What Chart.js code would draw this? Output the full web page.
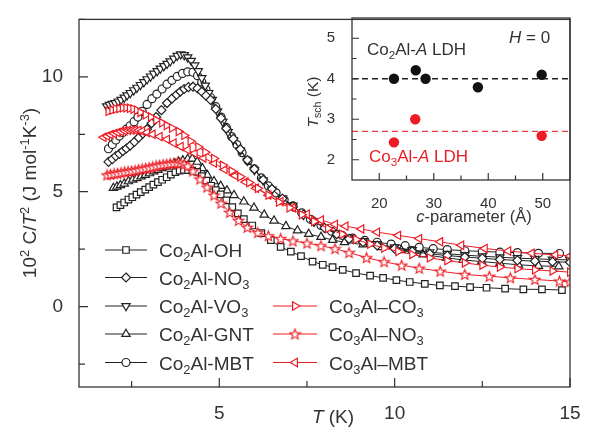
<!DOCTYPE html>
<html>
<head>
<meta charset="utf-8">
<script src="https://cdn.jsdelivr.net/npm/chart.js"></script>
<style>
html, body { margin: 0; padding: 0; background: #fff; }
#wrap { position: relative; width: 592px; height: 432px; }
#main { position: absolute; left: 0; top: 0; }
#inset { position: absolute; left: 290px; top: 0; }
</style>
</head>
<body>
<div id="wrap">
  <canvas id="main" width="592" height="432"></canvas>
  <canvas id="inset" width="302" height="232"></canvas>
</div>
<script>
// ---- data: [T (K), 10^2 C/T^2] ----
const co2OH = [[2.07,4.32],[2.18,4.42],[2.29,4.53],[2.41,4.66],[2.52,4.76],[2.64,4.87],[2.76,4.98],[2.89,5.09],[3.0,5.2],[3.12,5.31],
  [3.25,5.42],[3.37,5.52],[3.5,5.63],[3.62,5.74],[3.75,5.85],[3.87,5.92],[3.99,5.95],[4.11,5.94],[4.23,5.92],[4.37,5.86],
  [4.5,5.68],[4.63,5.48],[4.77,5.26],[4.9,5.07],[5.04,4.88],[5.2,4.62],[5.37,4.33],[5.53,4.06],[5.7,3.81],[5.94,3.53],
  [6.2,3.2],[6.47,2.89],[6.75,2.6],[7.04,2.39],[7.33,2.2],[7.66,1.96],[7.95,1.82],[8.23,1.72],[8.52,1.6],[8.9,1.46],
  [9.3,1.35],[9.67,1.25],[10.05,1.15],[10.43,1.07],[10.86,0.99],[11.29,0.92],[11.72,0.89],[12.15,0.85],[12.62,0.82],[13.15,0.78],
  [13.67,0.75],[14.2,0.75],[14.77,0.72]];
const co2NO3 = [[1.84,6.3],[1.95,6.42],[2.05,6.55],[2.15,6.65],[2.25,6.77],[2.35,6.88],[2.46,7.01],[2.58,7.17],[2.7,7.35],[2.82,7.53],
  [2.94,7.72],[3.07,7.98],[3.2,8.25],[3.35,8.55],[3.51,8.86],[3.65,9.05],[3.78,9.22],[3.89,9.36],[4.0,9.47],[4.12,9.55],
  [4.25,9.57],[4.38,9.5],[4.5,9.35],[4.62,9.18],[4.75,9.0],[4.9,8.6],[5.05,8.2],[5.2,7.75],[5.4,7.3],[5.6,6.85],
  [5.8,6.38],[6.0,5.98],[6.25,5.52],[6.5,5.12],[6.8,4.7],[7.1,4.35],[7.4,4.0],[7.7,3.7],[8.0,3.42],[8.35,3.15],
  [8.7,2.95],[9.1,2.8],[9.5,2.66],[10.0,2.52],[10.5,2.4],[11.0,2.3],[11.5,2.22],[12.0,2.16],[12.5,2.1],[13.0,2.05],
  [13.5,2.01],[14.0,1.98],[14.5,1.95],[15.0,1.93]];
const co2VO3 = [[1.79,8.72],[1.87,8.78],[1.95,8.83],[2.03,8.86],[2.12,8.93],[2.2,9.0],[2.29,9.1],[2.37,9.2],[2.46,9.3],[2.56,9.42],
  [2.65,9.53],[2.75,9.65],[2.85,9.77],[2.94,9.9],[3.04,10.02],[3.13,10.14],[3.23,10.25],[3.32,10.36],[3.42,10.47],[3.51,10.57],
  [3.6,10.68],[3.7,10.8],[3.8,10.92],[3.9,10.98],[4.0,10.95],[4.1,10.85],[4.2,10.7],[4.3,10.5],[4.4,10.25],[4.5,9.95],
  [4.6,9.62],[4.7,9.3],[4.8,9.0],[4.95,8.5],[5.1,8.05],[5.25,7.6],[5.4,7.25],[5.6,6.8],[5.8,6.35],[6.0,5.95],
  [6.25,5.5],[6.5,5.1],[6.8,4.72],[7.1,4.4],[7.4,4.0],[7.7,3.7],[8.0,3.45],[8.35,3.18],[8.7,3.0],[9.1,2.85],
  [9.5,2.72],[10.0,2.58],[10.5,2.46],[11.0,2.37],[11.5,2.3],[12.0,2.24],[12.5,2.19],[13.0,2.15],[13.5,2.11],[14.0,2.08],
  [14.5,2.05],[15.0,2.03]];
const co2GNT = [[1.98,5.16],[2.08,5.22],[2.18,5.28],[2.29,5.35],[2.41,5.45],[2.53,5.52],[2.65,5.59],[2.77,5.66],[2.89,5.73],[3.01,5.8],
  [3.13,5.88],[3.25,5.95],[3.37,6.02],[3.49,6.09],[3.61,6.16],[3.73,6.23],[3.84,6.3],[3.96,6.36],[4.1,6.42],[4.23,6.44],
  [4.37,6.3],[4.52,6.02],[4.66,5.72],[4.85,5.45],[5.04,5.25],[5.22,5.05],[5.42,4.85],[5.7,4.57],[5.99,4.3],[6.28,4.0],
  [6.56,3.74],[6.9,3.5],[7.23,3.31],[7.55,3.16],[7.9,3.03],[8.23,2.9],[8.57,2.8],[9.1,2.7],[9.62,2.58],[10.19,2.45],
  [10.81,2.27],[11.48,2.12],[11.95,2.03],[12.48,1.96],[13.0,1.89],[13.53,1.82],[14.1,1.77],[14.68,1.75]];
const co2MBT = [[1.84,6.87],[1.95,7.05],[2.05,7.25],[2.15,7.42],[2.25,7.58],[2.35,7.72],[2.46,7.87],[2.57,8.05],[2.68,8.25],[2.8,8.5],
  [2.94,8.8],[3.08,9.05],[3.22,9.25],[3.37,9.47],[3.51,9.68],[3.65,9.85],[3.8,10.02],[3.95,10.15],[4.1,10.22],[4.25,10.2],
  [4.38,10.05],[4.5,9.78],[4.62,9.45],[4.75,9.1],[4.9,8.7],[5.05,8.25],[5.2,7.8],[5.35,7.4],[5.5,7.05],[5.65,6.7],
  [5.82,6.35],[6.0,6.0],[6.2,5.6],[6.4,5.25],[6.62,4.95],[6.85,4.65],[7.1,4.38],[7.35,4.08],[7.6,3.8],[7.9,3.53],
  [8.2,3.28],[8.5,3.1],[8.8,2.98],[9.15,2.88],[9.5,2.8],[9.9,2.72],[10.3,2.65],[10.7,2.58],[11.1,2.52],[11.5,2.48],
  [12.0,2.43],[12.5,2.4],[13.0,2.37],[13.5,2.35],[14.1,2.32],[14.7,2.31]];
const co3CO3 = [[1.84,8.5],[1.95,8.55],[2.05,8.6],[2.15,8.62],[2.25,8.65],[2.35,8.65],[2.45,8.63],[2.55,8.6],[2.65,8.55],[2.75,8.45],
  [2.9,8.35],[3.05,8.25],[3.2,8.12],[3.37,8.0],[3.5,7.88],[3.65,7.77],[3.84,7.62],[4.0,7.45],[4.18,7.2],[4.4,6.95],
  [4.6,6.72],[4.85,6.45],[5.1,6.15],[5.35,5.9],[5.6,5.65],[5.85,5.4],[6.1,5.15],[6.4,4.85],[6.7,4.55],[7.0,4.3],
  [7.35,4.0],[7.7,3.7],[8.1,3.4],[8.5,3.15],[8.9,2.92],[9.3,2.72],[9.7,2.55],[10.1,2.4],[10.5,2.27],[11.0,2.12],
  [11.5,2.0],[12.0,1.9],[12.5,1.8],[13.0,1.72],[13.5,1.65],[14.0,1.6],[14.5,1.55],[15.0,1.5]];
const co3NO3 = [[1.8,5.73],[1.9,5.75],[2.0,5.78],[2.1,5.8],[2.2,5.83],[2.3,5.86],[2.4,5.88],[2.5,5.9],[2.6,5.93],[2.7,5.96],
  [2.8,5.99],[2.9,6.02],[3.0,6.05],[3.1,6.08],[3.2,6.12],[3.3,6.15],[3.4,6.18],[3.5,6.2],[3.6,6.22],[3.7,6.24],
  [3.8,6.25],[3.9,6.24],[4.0,6.2],[4.1,6.12],[4.25,5.9],[4.45,5.55],[4.65,5.2],[4.85,4.85],[5.05,4.5],[5.3,4.1],
  [5.55,3.75],[5.8,3.45],[6.1,3.22],[6.4,3.08],[6.75,2.96],[7.1,2.86],[7.5,2.76],[7.9,2.65],[8.3,2.52],[8.7,2.35],
  [9.2,2.13],[9.7,1.95],[10.2,1.8],[10.7,1.67],[11.3,1.54],[12.0,1.4],[12.7,1.32],[13.3,1.25],[14.0,1.18],[14.7,1.11],[15.0,1.08]];
const co3MBT = [[1.7,7.37],[1.8,7.42],[1.9,7.48],[2.0,7.53],[2.1,7.58],[2.2,7.62],[2.3,7.65],[2.4,7.67],[2.5,7.68],[2.6,7.68],
  [2.7,7.67],[2.8,7.64],[2.94,7.58],[3.1,7.5],[3.3,7.4],[3.51,7.28],[3.7,7.12],[3.9,6.97],[4.1,6.82],[4.3,6.67],
  [4.55,6.47],[4.85,6.25],[5.15,5.97],[5.45,5.7],[5.75,5.42],[6.05,5.15],[6.4,4.85],[6.75,4.57],[7.1,4.3],[7.5,4.02],
  [7.9,3.77],[8.3,3.58],[8.6,3.5],[9.05,3.38],[9.5,3.24],[10.1,3.1],[10.7,2.96],[11.3,2.82],[11.9,2.67],[12.57,2.53],
  [13.24,2.42],[13.91,2.32],[14.58,2.25],[15.0,2.2]];

const seriesNames = ['Co₂Al-OH', 'Co₂Al-NO₃', 'Co₂Al-VO₃', 'Co₂Al-GNT', 'Co₂Al-MBT', 'Co₃Al–CO₃', 'Co₃Al–NO₃', 'Co₃Al–MBT'];
const xTicksMain = [2.5, 5, 7.5, 10, 12.5, 15];
const yTicksMain = [-2.5, 0, 2.5, 5, 7.5, 10, 12.5];

// inset: T_sch vs c-parameter
const co2C = [22.7, 26.7, 28.5, 38.1, 49.8];
const co2Tsch = [4.0, 4.21, 4.0, 3.79, 4.1];
const co3C = [22.7, 26.6, 49.8];
const co3Tsch = [2.43, 3.0, 2.59];
const co2Level = 4.0;
const co3Level = 2.7;
const xTicksInset = [20, 25, 30, 35, 40, 45, 50];
const yTicksInset = [2, 2.5, 3, 3.5, 4, 4.5, 5];

const FONT = "'Liberation Sans', Arial, Helvetica, sans-serif";
const TXT = '#333';
const BLACK = '#222';
const RED = '#ec1c24';

// rich text: '*' toggles italic, '_{..}' subscript, unicode sub/superscript digits
const SUBS = '₀₁₂₃₄₅₆₇₈₉', SUPS = '⁰¹²³⁴⁵⁶⁷⁸⁹';
function parseRich(str) {
  let segs = [], ital = false, i = 0;
  const push = (t, k) => {
    let last = segs[segs.length - 1];
    if (last && last.k === k && last.i === ital) last.t += t;
    else segs.push({ t: t, k: k, i: ital });
  };
  while (i < str.length) {
    let ch = str[i];
    if (ch === '*') { ital = !ital; i++; continue; }
    if (ch === '_' && str[i + 1] === '{') {
      let j = str.indexOf('}', i);
      push(str.slice(i + 2, j), 'sub'); i = j + 1; continue;
    }
    if (SUBS.includes(ch)) push(String(SUBS.indexOf(ch)), 'sub');
    else if (SUPS.includes(ch)) push(String(SUPS.indexOf(ch)), 'sup');
    else if (ch === '⁻') push('-', 'sup');
    else push(ch, 'n');
    i++;
  }
  return segs;
}

function drawRich(ctx, str, x, y, size, color, align) {
  const segs = parseRich(str);
  const fontOf = s => (s.i ? 'italic ' : '') + (s.k === 'n' ? size : size * 0.68).toFixed(1) + 'px ' + FONT;
  let w = 0;
  segs.forEach(s => { ctx.font = fontOf(s); s.w = ctx.measureText(s.t).width; w += s.w; });
  let cx = align === 'center' ? x - w / 2 : align === 'right' ? x - w : x;
  ctx.fillStyle = color;
  ctx.textBaseline = 'alphabetic';
  ctx.textAlign = 'left';
  segs.forEach(s => {
    ctx.font = fontOf(s);
    let dy = s.k === 'sub' ? size * 0.22 : s.k === 'sup' ? -size * 0.38 : 0;
    ctx.fillText(s.t, cx, y + dy);
    cx += s.w;
  });
  return w;
}

function starImg(color) {
  const c = document.createElement('canvas');
  c.width = 13; c.height = 13;
  const g = c.getContext('2d');
  g.beginPath();
  for (let k = 0; k < 10; k++) {
    let rr = k % 2 ? 2.3 : 5.4;
    let t = k * Math.PI / 5;
    let px = 6.5 + Math.sin(t) * rr, py = 7 - Math.cos(t) * rr;
    if (k) g.lineTo(px, py); else g.moveTo(px, py);
  }
  g.closePath();
  g.fillStyle = '#fff'; g.fill();
  g.strokeStyle = color; g.lineWidth = 1.1; g.stroke();
  return c;
}
const STAR = starImg(RED);

// same shapes as the chart points, for the legend
function drawMarker(ctx, ds, x, y) {
  const style = ds.pointStyle, r = ds.pointRadius, rot = (ds.pointRotation || 0) * Math.PI / 180;
  if (style instanceof HTMLCanvasElement) { ctx.drawImage(style, x - style.width / 2, y - style.height / 2); return; }
  ctx.beginPath();
  if (style === 'circle') ctx.arc(x, y, r, 0, 2 * Math.PI);
  else if (style === 'rect') { let s = r * Math.SQRT1_2; ctx.rect(x - s, y - s, 2 * s, 2 * s); }
  else if (style === 'rectRot') { ctx.moveTo(x, y - r); ctx.lineTo(x + r, y); ctx.lineTo(x, y + r); ctx.lineTo(x - r, y); ctx.closePath(); }
  else if (style === 'triangle') {
    for (let k = 0; k < 3; k++) {
      let t = rot + k * 2 * Math.PI / 3;
      let px = x + Math.sin(t) * r, py = y - Math.cos(t) * r;
      if (k) ctx.lineTo(px, py); else ctx.moveTo(px, py);
    }
    ctx.closePath();
  }
  ctx.fillStyle = '#fff'; ctx.fill();
  ctx.strokeStyle = ds.pointBorderColor; ctx.lineWidth = ds.pointBorderWidth; ctx.stroke();
}

function inwardTicks(chart, isMajor, lenMaj, lenMin) {
  const ctx = chart.ctx, a = chart.chartArea, sx = chart.scales.x, sy = chart.scales.y;
  ctx.save();
  ctx.strokeStyle = TXT; ctx.lineWidth = 1.2;
  ctx.beginPath();
  sx.ticks.forEach(t => {
    const p = sx.getPixelForValue(t.value), l = isMajor.x(t.value) ? lenMaj : lenMin;
    ctx.moveTo(p, a.bottom); ctx.lineTo(p, a.bottom - l);
  });
  sy.ticks.forEach(t => {
    const p = sy.getPixelForValue(t.value), l = isMajor.y(t.value) ? lenMaj : lenMin;
    ctx.moveTo(a.left, p); ctx.lineTo(a.left + l, p);
  });
  ctx.stroke();
  ctx.lineWidth = 1.3;
  ctx.strokeRect(a.left, a.top, a.right - a.left, a.bottom - a.top);
  ctx.restore();
}

function pts(arr) { return arr.map(p => ({ x: p[0], y: p[1] })); }

function series(i, arr, color, style, rot, r, order) {
  return {
    label: seriesNames[i], data: pts(arr),
    borderColor: color, borderWidth: 1,
    pointStyle: style, pointRotation: rot, pointRadius: r,
    pointBorderColor: color, pointBorderWidth: 1.2, pointBackgroundColor: '#fff',
    pointHoverRadius: r, tension: 0, order: order
  };
}

const datasets = [
  series(0, co2OH, BLACK, 'rect', 0, 4.6, 1),
  series(1, co2NO3, BLACK, 'rectRot', 0, 4.5, 1),
  series(2, co2VO3, BLACK, 'triangle', 180, 4.8, 1),
  series(3, co2GNT, BLACK, 'triangle', 0, 4.8, 1),
  series(4, co2MBT, BLACK, 'circle', 0, 4, 1),
  series(5, co3CO3, RED, 'triangle', 90, 4.8, 0),
  series(6, co3NO3, RED, STAR, 0, 4, 0),
  series(7, co3MBT, RED, 'triangle', -90, 4.8, 0)
];

// legend placement (two columns, like the figure)
const legendRows = [
  { ds: 0, x0: 105, x1: 147, y: 250 },
  { ds: 1, x0: 105, x1: 147, y: 277.5 },
  { ds: 2, x0: 105, x1: 147, y: 306 },
  { ds: 3, x0: 105, x1: 147, y: 334 },
  { ds: 4, x0: 105, x1: 147, y: 362.5 },
  { ds: 5, x0: 273, x1: 317, y: 306 },
  { ds: 6, x0: 273, x1: 317, y: 334 },
  { ds: 7, x0: 273, x1: 317, y: 362.5 }
];

const mainDecor = {
  id: 'mainDecor',
  afterDraw(chart) {
    const ctx = chart.ctx;
    inwardTicks(chart, { x: v => v % 5 === 0, y: v => v % 5 === 0 }, 9, 6);
    ctx.save();
    legendRows.forEach(row => {
      const ds = chart.data.datasets[row.ds];
      ctx.strokeStyle = ds.borderColor; ctx.lineWidth = 1;
      ctx.beginPath(); ctx.moveTo(row.x0, row.y); ctx.lineTo(row.x1, row.y); ctx.stroke();
      drawMarker(ctx, ds, (row.x0 + row.x1) / 2, row.y);
      drawRich(ctx, ds.label, row.x1 + 12, row.y + 7, 19, TXT, 'left');
    });
    drawRich(ctx, '*T* (K)', 333, 423, 19, TXT, 'center');
    ctx.translate(36, 193);
    ctx.rotate(-Math.PI / 2);
    drawRich(ctx, '10² C/*T*² (J mol⁻¹K⁻³)', 0, 0, 19, TXT, 'center');
    ctx.restore();
  }
};

const insetDecor = {
  id: 'insetDecor',
  afterDraw(chart) {
    const ctx = chart.ctx;
    inwardTicks(chart, { x: v => v % 10 === 0, y: v => Number.isInteger(v) }, 7, 4.5);
    ctx.save();
    drawRich(ctx, 'Co₂Al-*A* LDH', 77, 55, 17, TXT, 'left');
    drawRich(ctx, 'Co₃Al-*A* LDH', 79, 162, 17, RED, 'left');
    drawRich(ctx, '*H* = 0', 219, 43, 17, TXT, 'left');
    drawRich(ctx, '*c*-parameter (Å)', 184, 222, 16.5, TXT, 'center');
    ctx.translate(28, 102);
    ctx.rotate(-Math.PI / 2);
    drawRich(ctx, '*T*_{sch} (K)', 0, 0, 15.5, TXT, 'center');
    ctx.restore();
  }
};

const tickFont = size => ({ family: FONT, size: size });

new Chart(document.getElementById('main'), {
  type: 'line',
  data: { datasets: datasets },
  options: {
    responsive: false, animation: false, devicePixelRatio: 1,
    layout: { padding: { left: 0, top: 12, right: 22, bottom: 0 } },
    plugins: { legend: { display: false }, tooltip: { enabled: false } },
    scales: {
      x: {
        type: 'linear', min: 1, max: 15,
        afterBuildTicks: s => { s.ticks = xTicksMain.map(v => ({ value: v })); },
        afterFit: s => { s.height = 45; },
        grid: { display: false }, border: { display: false },
        ticks: { font: tickFont(19), color: TXT, padding: 7, maxRotation: 0, autoSkip: false,
          callback: v => (v % 5 === 0 ? String(v) : '') }
      },
      y: {
        type: 'linear', min: -3.5, max: 12.5,
        afterBuildTicks: s => { s.ticks = yTicksMain.map(v => ({ value: v })); },
        afterFit: s => { s.width = 79; },
        grid: { display: false }, border: { display: false },
        ticks: { font: tickFont(19), color: TXT, padding: 8, autoSkip: false,
          callback: v => (v % 5 === 0 ? String(v) : '') }
      }
    }
  },
  plugins: [mainDecor]
});

const dot = (c, t, color) => ({
  type: 'line', data: c.map((v, i) => ({ x: v, y: t[i] })), showLine: false,
  pointRadius: 5.2, pointHoverRadius: 5.2, pointBackgroundColor: color, pointBorderColor: color, pointBorderWidth: 0
});
const level = (y, color) => ({
  type: 'line', data: [{ x: 15, y: y }, { x: 55, y: y }], borderColor: color, borderWidth: 1.3,
  borderDash: [6, 4], pointRadius: 0
});

new Chart(document.getElementById('inset'), {
  type: 'line',
  data: {
    datasets: [
      Object.assign(dot(co2C, co2Tsch, '#111'), { label: 'Co₂Al-A LDH' }),
      Object.assign(dot(co3C, co3Tsch, RED), { label: 'Co₃Al-A LDH' }),
      Object.assign(level(co2Level, '#222'), { label: 'Co₂Al mean' }),
      Object.assign(level(co3Level, '#ee3b40'), { label: 'Co₃Al mean' })
    ]
  },
  options: {
    responsive: false, animation: false, devicePixelRatio: 1,
    layout: { padding: { left: 0, top: 12, right: 22, bottom: 0 } },
    plugins: { legend: { display: false }, tooltip: { enabled: false } },
    scales: {
      x: {
        type: 'linear', min: 15, max: 55,
        afterBuildTicks: s => { s.ticks = xTicksInset.map(v => ({ value: v })); },
        afterFit: s => { s.height = 52; },
        grid: { display: false }, border: { display: false },
        ticks: { font: tickFont(15), color: TXT, padding: 7, maxRotation: 0, autoSkip: false,
          callback: v => (v % 10 === 0 ? String(v) : '') }
      },
      y: {
        type: 'linear', min: 1.5, max: 5.5,
        afterBuildTicks: s => { s.ticks = yTicksInset.map(v => ({ value: v })); },
        afterFit: s => { s.width = 62; },
        grid: { display: false }, border: { display: false },
        ticks: { font: tickFont(15), color: TXT, padding: 9, autoSkip: false,
          callback: v => (Number.isInteger(v) ? String(v) : '') }
      }
    }
  },
  plugins: [insetDecor]
});
</script>
</body>
</html>
